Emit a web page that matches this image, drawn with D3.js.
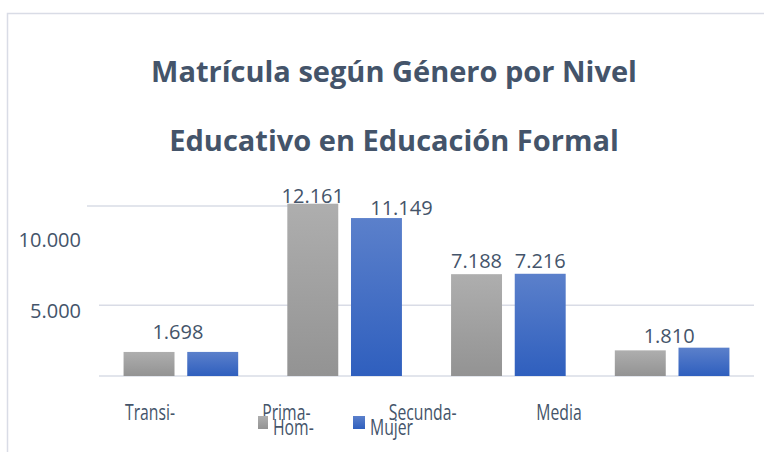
<!DOCTYPE html>
<html lang="es">
<head>
    <meta charset="UTF-8">
    <title>Matrícula según Género</title>
    <style>
        body { margin: 0; background: #fff; }
        #chart text { fill: #44546A; font-family: "Open Sans", sans-serif; }
        .title { font-weight: bold; font-size: 29px; }
        .num { font-size: 20px; }
        .cat { font-size: 21px; }
    </style>
    <script src="https://d3js.org/d3.v7.min.js"></script>
</head>
<body>
    <div id="chart"></div>
    <script>
        // data
        const categories = ["Transi-", "Prima-", "Secunda-", "Media"];
        const series = ["Hom-", "Mujer"];
        const hombre = [1698, 12161, 7188, 1810];
        const mujer = [1700, 11149, 7216, 2000];
        const tickValues = [5000, 10000];
        const tickLabels = ["5.000", "10.000"];
        const titleLines = ["Matrícula según Género por Nivel", "Educativo en Educación Formal"];

        const W = 764, H = 452;
        const svg = d3.select("#chart").append("svg")
            .attr("width", W).attr("height", H);

        const defs = svg.append("defs");
        const grads = [["gGray", "#AEAEAE", "#939393"], ["gBlue", "#5B80CB", "#2F5FBE"]];
        grads.forEach(g => {
            const lg = defs.append("linearGradient").attr("id", g[0])
                .attr("x1", 0).attr("y1", 0).attr("x2", 0).attr("y2", 1);
            lg.append("stop").attr("offset", "0%").attr("stop-color", g[1]);
            lg.append("stop").attr("offset", "100%").attr("stop-color", g[2]);
        });

        // chart border (left + top visible)
        svg.append("rect")
            .attr("x", 7.5).attr("y", 13.5)
            .attr("width", W + 20).attr("height", H + 20)
            .attr("fill", "none").attr("stroke", "#D9DCE6").attr("stroke-width", 1.5);

        // title
        svg.selectAll(".title").data(titleLines).enter().append("text")
            .attr("class", "title")
            .attr("x", 394)
            .attr("y", (d, i) => 82 + i * 69)
            .attr("text-anchor", "middle")
            .text(d => d);

        // scales
        const x0 = d3.scaleBand().domain(categories).range([99, 754])
            .paddingInner(0.3).paddingOuter(0.15);
        const x1 = d3.scaleBand().domain(series).range([0, x0.bandwidth()]).paddingInner(0.2);
        const y = d3.scaleLinear().domain([0, 12000]).range([376, 206]);
        const labelX = d3.scalePoint().domain(categories).range([150, 559]);

        // gridlines
        svg.selectAll(".grid").data([0, 5000]).enter().append("line")
            .attr("x1", 99).attr("x2", 754)
            .attr("y1", d => y(d)).attr("y2", d => y(d))
            .attr("stroke", "#D9DCE6").attr("stroke-width", 1.5);
        svg.append("line")
            .attr("x1", 87).attr("x2", x0("Prima-") + x1("Hom-") + 4)
            .attr("y1", y(12000)).attr("y2", y(12000))
            .attr("stroke", "#D9DCE6").attr("stroke-width", 1.5);

        // y tick labels
        svg.selectAll(".tick-label").data(tickValues).enter().append("text")
            .attr("class", "num")
            .attr("x", 81)
            .attr("y", d => y(d) + 13)
            .attr("text-anchor", "end")
            .text((d, i) => tickLabels[i]);

        // bars
        const rows = categories.map((c, i) => ({ cat: c, vals: [hombre[i], mujer[i]] }));
        const groups = svg.selectAll(".grp").data(rows).enter().append("g")
            .attr("transform", d => `translate(${x0(d.cat)},0)`);
        groups.selectAll("rect").data(d => d.vals.map((v, j) => ({ s: series[j], v: v })))
            .enter().append("rect")
            .attr("x", d => x1(d.s))
            .attr("width", x1.bandwidth())
            .attr("y", d => y(d.v))
            .attr("height", d => y(0) - y(d.v))
            .attr("fill", d => d.s === "Hom-" ? "url(#gGray)" : "url(#gBlue)");

        // value labels
        const fmt = v => d3.format(",")(v).replace(/,/g, ".");
        rows.forEach((r, i) => {
            const single = r.cat === "Transi-" || r.cat === "Media";
            if (single) {
                svg.append("text").attr("class", "num")
                    .attr("x", x0(r.cat) + x0.bandwidth() / 2 - 3)
                    .attr("y", y(r.vals[0]) - (r.cat === "Transi-" ? 13 : 7))
                    .attr("text-anchor", "middle")
                    .text(fmt(r.vals[0]));
            } else {
                series.forEach((s, j) => {
                    const shift = (r.cat === "Prima-" && j === 1) ? 25 : 0;
                    svg.append("text").attr("class", "num")
                        .attr("x", x0(r.cat) + x1(s) + x1.bandwidth() / 2 + shift)
                        .attr("y", y(r.vals[j]) - (r.vals[j] > 12000 ? 1 : (j === 1 && r.cat === "Prima-" ? 3 : 6)))
                        .attr("text-anchor", "middle")
                        .text(fmt(r.vals[j]));
                });
            }
        });

        // category labels
        svg.selectAll(".cat-label").data(categories).enter().append("text")
            .attr("class", "cat")
            .attr("transform", d => `translate(${labelX(d)},420) scale(0.75,1)`)
            .attr("text-anchor", "middle")
            .text(d => d);

        // legend
        const legX = [258, 353];
        const colors = ["url(#gGray)", "url(#gBlue)"];
        series.forEach((s, i) => {
            svg.append("rect")
                .attr("x", legX[i]).attr("y", 416)
                .attr("width", i === 0 ? 10 : 12).attr("height", 13)
                .attr("fill", colors[i]);
            svg.append("text").attr("class", "cat")
                .attr("transform", `translate(${legX[i] + (i === 0 ? 15 : 17)},435) scale(0.75,1)`)
                .text(s);
        });
    </script>
</body>
</html>
